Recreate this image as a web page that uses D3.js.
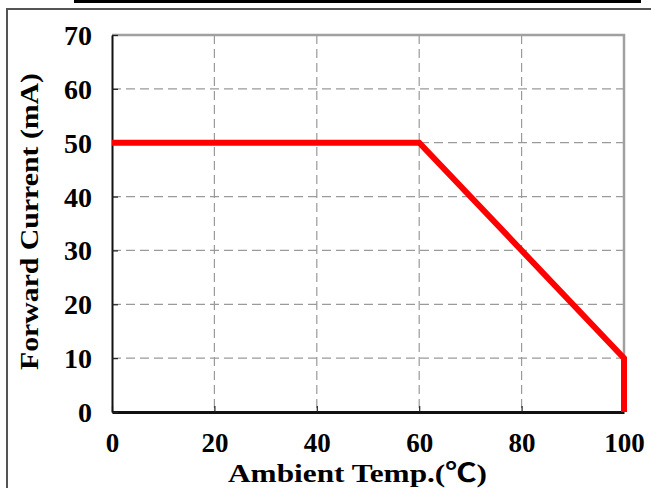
<!DOCTYPE html>
<html>
<head>
<meta charset="utf-8">
<script src="https://cdn.jsdelivr.net/npm/d3@7"></script>
<style>
  html, body { margin: 0; padding: 0; background: #fff; }
  svg { display: block; }
</style>
</head>
<body>
<svg id="chart" width="651" height="488"></svg>
<script>
// ---- data ----
const temps   = [0, 60, 100, 100];   // Ambient temperature (°C)
const current = [50, 50, 10, 0];     // Forward current (mA)
const xTicks = [0, 20, 40, 60, 80, 100];
const yTicks = [0, 10, 20, 30, 40, 50, 60, 70];
const xTitle = "Ambient Temp.(℃)";
const yTitle = "Forward Current (mA)";

const svg = d3.select("#chart");
const W = 651, H = 488;
svg.append("rect").attr("width", W).attr("height", H).attr("fill", "#fff");

// page decorations
svg.append("rect").attr("x", 74).attr("y", 0).attr("width", 567).attr("height", 3).attr("fill", "#000");
svg.append("path").attr("d", "M7,492 V9 H660").attr("fill", "none").attr("stroke", "#555").attr("stroke-width", 2);

const x = d3.scaleLinear().domain([0, 100]).range([112, 624]);
const y = d3.scaleLinear().domain([0, 70]).range([412, 35]);

const numFont = "'Liberation Serif', 'Times New Roman', serif";

// grid
const grid = svg.append("g");
grid.selectAll("line.v").data(xTicks.filter(d => d > 0 && d < 100)).join("line")
  .attr("x1", d => x(d)).attr("x2", d => x(d)).attr("y1", y(70)).attr("y2", y(0))
  .attr("stroke", "#9a9a9a").attr("stroke-width", 1.2).attr("stroke-dasharray", "9,5");
grid.selectAll("line.h").data(yTicks.filter(d => d > 0 && d < 70)).join("line")
  .attr("y1", d => y(d)).attr("y2", d => y(d)).attr("x1", x(0)).attr("x2", x(100))
  .attr("stroke", "#9a9a9a").attr("stroke-width", 1.2).attr("stroke-dasharray", "9,5");

// top and right border (gray)
svg.append("path")
  .attr("d", `M${x(0)},${y(70)} H${x(100)} V${y(0)}`)
  .attr("fill", "none").attr("stroke", "#a0a0a0").attr("stroke-width", 2.5);

// axes
const gx = svg.append("g").attr("transform", `translate(0,${y(0)})`)
  .call(d3.axisBottom(x).tickValues(xTicks).tickSize(-6).tickSizeOuter(0).tickPadding(21));
gx.select(".domain").attr("stroke", "#111").attr("stroke-width", 3);
gx.selectAll(".tick line").attr("stroke", "#222").attr("stroke-width", 1.2);
gx.selectAll(".tick text").attr("font-family", numFont).attr("font-size", 27)
  .attr("font-weight", "bold").attr("fill", "#000");

const gy = svg.append("g").attr("transform", `translate(${x(0)},0)`)
  .call(d3.axisLeft(y).tickValues(yTicks).tickSize(-6).tickSizeOuter(0).tickPadding(20));
gy.select(".domain").attr("stroke", "#111").attr("stroke-width", 2);
gy.selectAll(".tick line").attr("stroke", "#222").attr("stroke-width", 1.2);
gy.selectAll(".tick text").attr("font-family", numFont).attr("font-size", 28)
  .attr("font-weight", "bold").attr("fill", "#000").attr("dy", "0.34em");

// derating curve
const line = d3.line().x((d, i) => x(temps[i])).y((d, i) => y(current[i]));
svg.append("path").datum(current).attr("d", line)
  .attr("fill", "none").attr("stroke", "#ff0000").attr("stroke-width", 6)
  .attr("stroke-linejoin", "miter");

// titles
svg.append("text").text(xTitle)
  .attr("x", 228).attr("y", 482)
  .attr("textLength", 259).attr("lengthAdjust", "spacingAndGlyphs")
  .attr("font-family", numFont + ", 'Noto Sans CJK JP'").attr("font-size", 26).attr("font-weight", "bold")
  .attr("fill", "#000");

svg.append("text").text(yTitle)
  .attr("transform", "translate(38,370) rotate(-90)")
  .attr("textLength", 297).attr("lengthAdjust", "spacingAndGlyphs")
  .attr("font-family", numFont).attr("font-size", 26).attr("font-weight", "bold")
  .attr("fill", "#000");
</script>
</body>
</html>
